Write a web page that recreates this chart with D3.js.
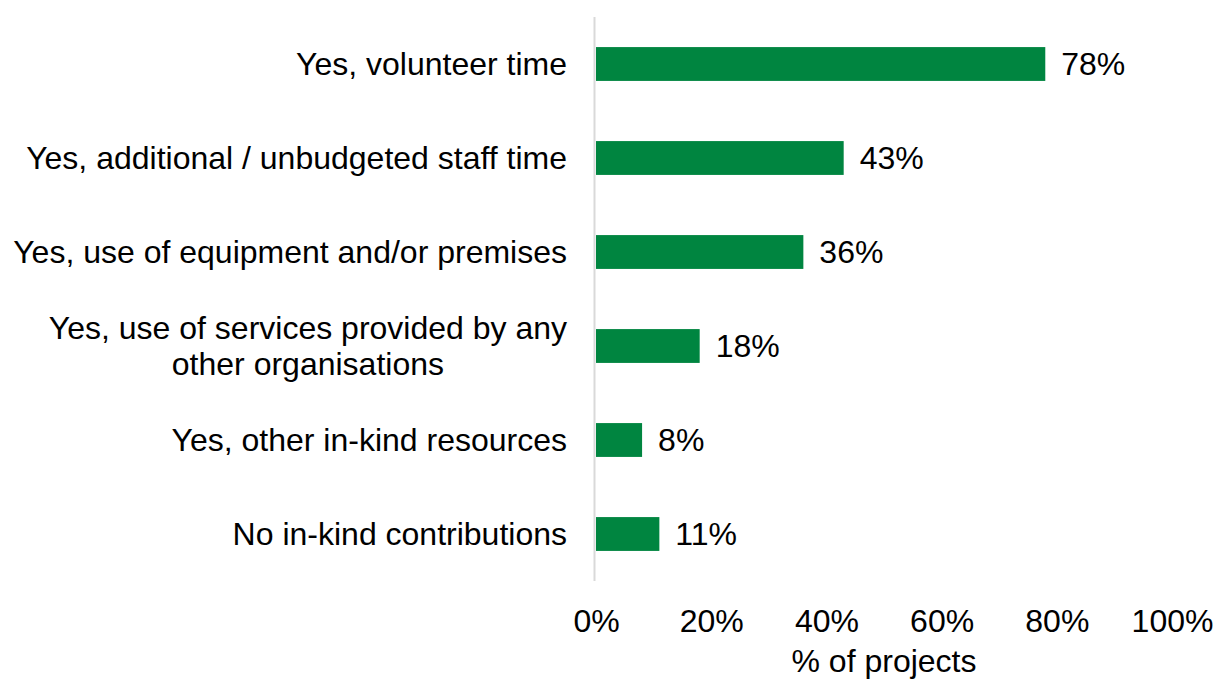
<!DOCTYPE html>
<html>
<head>
<meta charset="utf-8">
<script src="https://cdn.jsdelivr.net/npm/d3@7"></script>
<style>
  body { margin: 0; background: #fff; }
  svg text { font-family: "Liberation Sans", Arial, sans-serif; fill: #000; }
</style>
</head>
<body>
<div id="chart"></div>
<script>
const categories = [
  ['Yes, volunteer time'],
  ['Yes, additional / unbudgeted staff time'],
  ['Yes, use of equipment and/or premises'],
  ['Yes, use of services provided by any', 'other organisations'],
  ['Yes, other in-kind resources'],
  ['No in-kind contributions']
];
const values = [78, 43, 36, 18, 8, 11];
const xTicks = [0, 20, 40, 60, 80, 100];
const xTitle = '% of projects';

const draw = () => {
  const fontSize = 32;
  const dimensions = {
    width: 1215,
    height: 679,
    margin: { top: 17, bottom: 98, left: 596, right: 43 }
  };
  dimensions.containerWidth = dimensions.width - dimensions.margin.left - dimensions.margin.right;
  dimensions.containerHeight = dimensions.height - dimensions.margin.top - dimensions.margin.bottom;

  const data = categories.map((lines, i) => ({ id: i, lines, value: values[i] }));

  const svg = d3.select('#chart')
    .append('svg')
    .attr('width', dimensions.width)
    .attr('height', dimensions.height);

  const container = svg.append('g')
    .attr('transform', `translate(${dimensions.margin.left}, ${dimensions.margin.top})`);

  const xScale = d3.scaleLinear()
    .domain([0, 100])
    .range([0, dimensions.containerWidth]);

  const yScale = d3.scaleBand()
    .domain(data.map((d) => d.id))
    .range([0, dimensions.containerHeight])
    .paddingInner(0.64)
    .paddingOuter(0.32);

  container.selectAll('rect')
    .data(data)
    .join('rect')
    .attr('x', 0)
    .attr('y', (d) => yScale(d.id))
    .attr('width', (d) => xScale(d.value))
    .attr('height', yScale.bandwidth())
    .attr('fill', '#008540');

  // vertical axis line
  container.append('line')
    .attr('x1', -1.5).attr('x2', -1.5)
    .attr('y1', 0).attr('y2', dimensions.containerHeight)
    .attr('stroke', '#d9d9d9')
    .attr('stroke-width', 2);

  // value labels
  container.selectAll('.value-label')
    .data(data)
    .join('text')
    .classed('value-label', true)
    .attr('x', (d) => xScale(d.value) + 16)
    .attr('y', (d) => yScale(d.id) + yScale.bandwidth() / 2)
    .attr('dy', '0.35em')
    .style('font-size', fontSize + 'px')
    .text((d) => d.value + '%');

  // category labels: block right-aligned, lines centred within the block
  const catLabels = container.selectAll('.cat-label')
    .data(data)
    .join('text')
    .classed('cat-label', true)
    .attr('text-anchor', 'middle')
    .style('font-size', fontSize + 'px')
    .attr('y', (d) => yScale(d.id) + yScale.bandwidth() / 2);

  catLabels.selectAll('tspan')
    .data((d) => d.lines.map((t, i) => ({ t, i, n: d.lines.length })))
    .join('tspan')
    .attr('dy', (l) => l.i === 0 ? `${0.35 - (l.n - 1) * 0.5625}em` : '1.125em')
    .text((l) => l.t);

  catLabels.each(function() {
    const spans = d3.select(this).selectAll('tspan');
    let maxW = 0;
    spans.each(function() { maxW = Math.max(maxW, this.getComputedTextLength()); });
    spans.attr('x', -29 - maxW / 2);
  });

  // x axis
  const xAxis = d3.axisBottom(xScale)
    .tickValues(xTicks)
    .tickSize(0)
    .tickPadding(0)
    .tickFormat((d) => d + '%');

  const xAxisGroup = container.append('g')
    .attr('transform', `translate(0, ${dimensions.containerHeight})`)
    .call(xAxis);
  xAxisGroup.select('.domain').remove();
  xAxisGroup.selectAll('text')
    .attr('y', 51)
    .attr('dy', 0)
    .style('font-size', fontSize + 'px')
    .style('font-family', '"Liberation Sans", Arial, sans-serif')
    .attr('fill', '#000');

  xAxisGroup.append('text')
    .attr('x', dimensions.containerWidth / 2)
    .attr('y', 91)
    .attr('text-anchor', 'middle')
    .style('font-size', fontSize + 'px')
    .text(xTitle);
};

draw();
</script>
</body>
</html>
